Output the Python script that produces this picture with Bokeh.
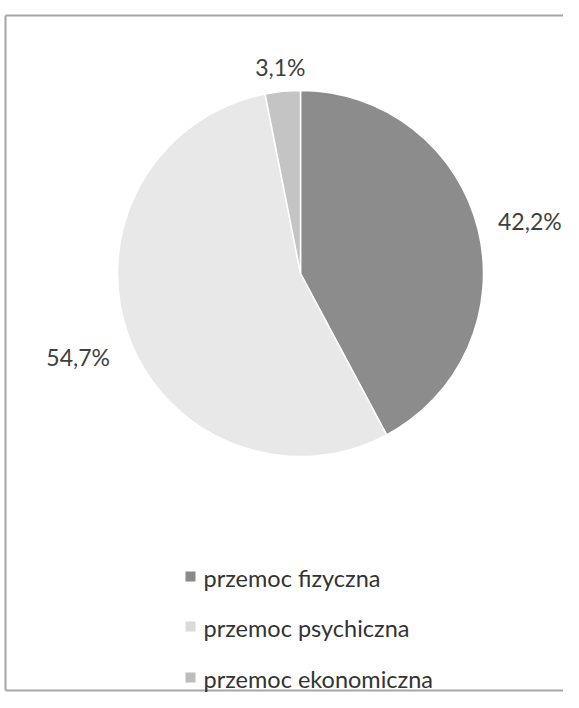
import math
from bokeh.plotting import figure
from bokeh.models import Range1d, ColumnDataSource
from bokeh.core.properties import value
from bokeh.embed import file_html
from bokeh.resources import INLINE

# ---- data ----
categories = ["przemoc fizyczna", "przemoc psychiczna", "przemoc ekonomiczna"]
shares = [42.2, 54.7, 3.1]
labels = ["42,2%", "54,7%", "3,1%"]
slice_colors = ["#8c8c8c", "#e8e8e8", "#c4c4c4"]
legend_colors = ["#8a8a8a", "#dadada", "#bcbcbc"]

W, H = 563, 692
FONT = "Lato"
# data units == screen pixels; y measured upward from 708 - page_y
p = figure(width=W, height=H, output_backend="svg", toolbar_location=None,
           x_range=Range1d(0, W), y_range=Range1d(708 - H, 708),
           min_border=0)
p.axis.visible = False
p.grid.visible = False
p.outline_line_color = None
p.background_fill_color = "white"
p.border_fill_color = "white"

# frame (scanned border: left, top, bottom)
p.segment(x0=[5, 5, 5], y0=[693, 693, 18], x1=[5, W, W], y1=[18, 693, 18],
          line_color="#a6a6a6", line_width=2)

# ---- pie ----
cx, cy, R = 300, 435, 183
total = sum(shares)
starts, ends, mids = [], [], []
acc = 0.0
for s in shares:
    a0 = math.pi / 2 - 2 * math.pi * acc / total
    acc += s
    a1 = math.pi / 2 - 2 * math.pi * acc / total
    starts.append(a1)
    ends.append(a0)
    mids.append((a0 + a1) / 2)

src = ColumnDataSource(dict(start=starts, end=ends, color=slice_colors, cat=categories))
p.wedge(x=cx, y=cy, radius=R, start_angle="start", end_angle="end",
        fill_color="color", line_color="white", line_width=1.5, source=src)

# ---- data labels (outside end) ----
lx, ly = [], []
for lab, m in zip(labels, mids):
    w = len(lab) * 12.6
    h = 17
    r = R + 13 + (w / 2 + 8) * abs(math.cos(m)) + (h / 2) * abs(math.sin(m))
    lx.append(cx + r * math.cos(m))
    ly.append(cy + r * math.sin(m) - 5 * abs(math.cos(m)))
p.text(x=lx, y=ly, text=labels, text_font=value(FONT), text_font_size="23px",
       text_color="#404040", text_align="center", text_baseline="middle")

# ---- legend ----
leg_y = [132, 82, 31]
p.scatter(x=[190] * 3, y=leg_y, marker="square", size=10,
          fill_color=legend_colors, line_color=None)
p.text(x=[203] * 3, y=[v - 1 for v in leg_y], text=categories, text_font=value(FONT),
       text_font_size="23.5px", text_color="#333333", text_align="left",
       text_baseline="middle")

open("out.html", "w").write(file_html(p, INLINE))
